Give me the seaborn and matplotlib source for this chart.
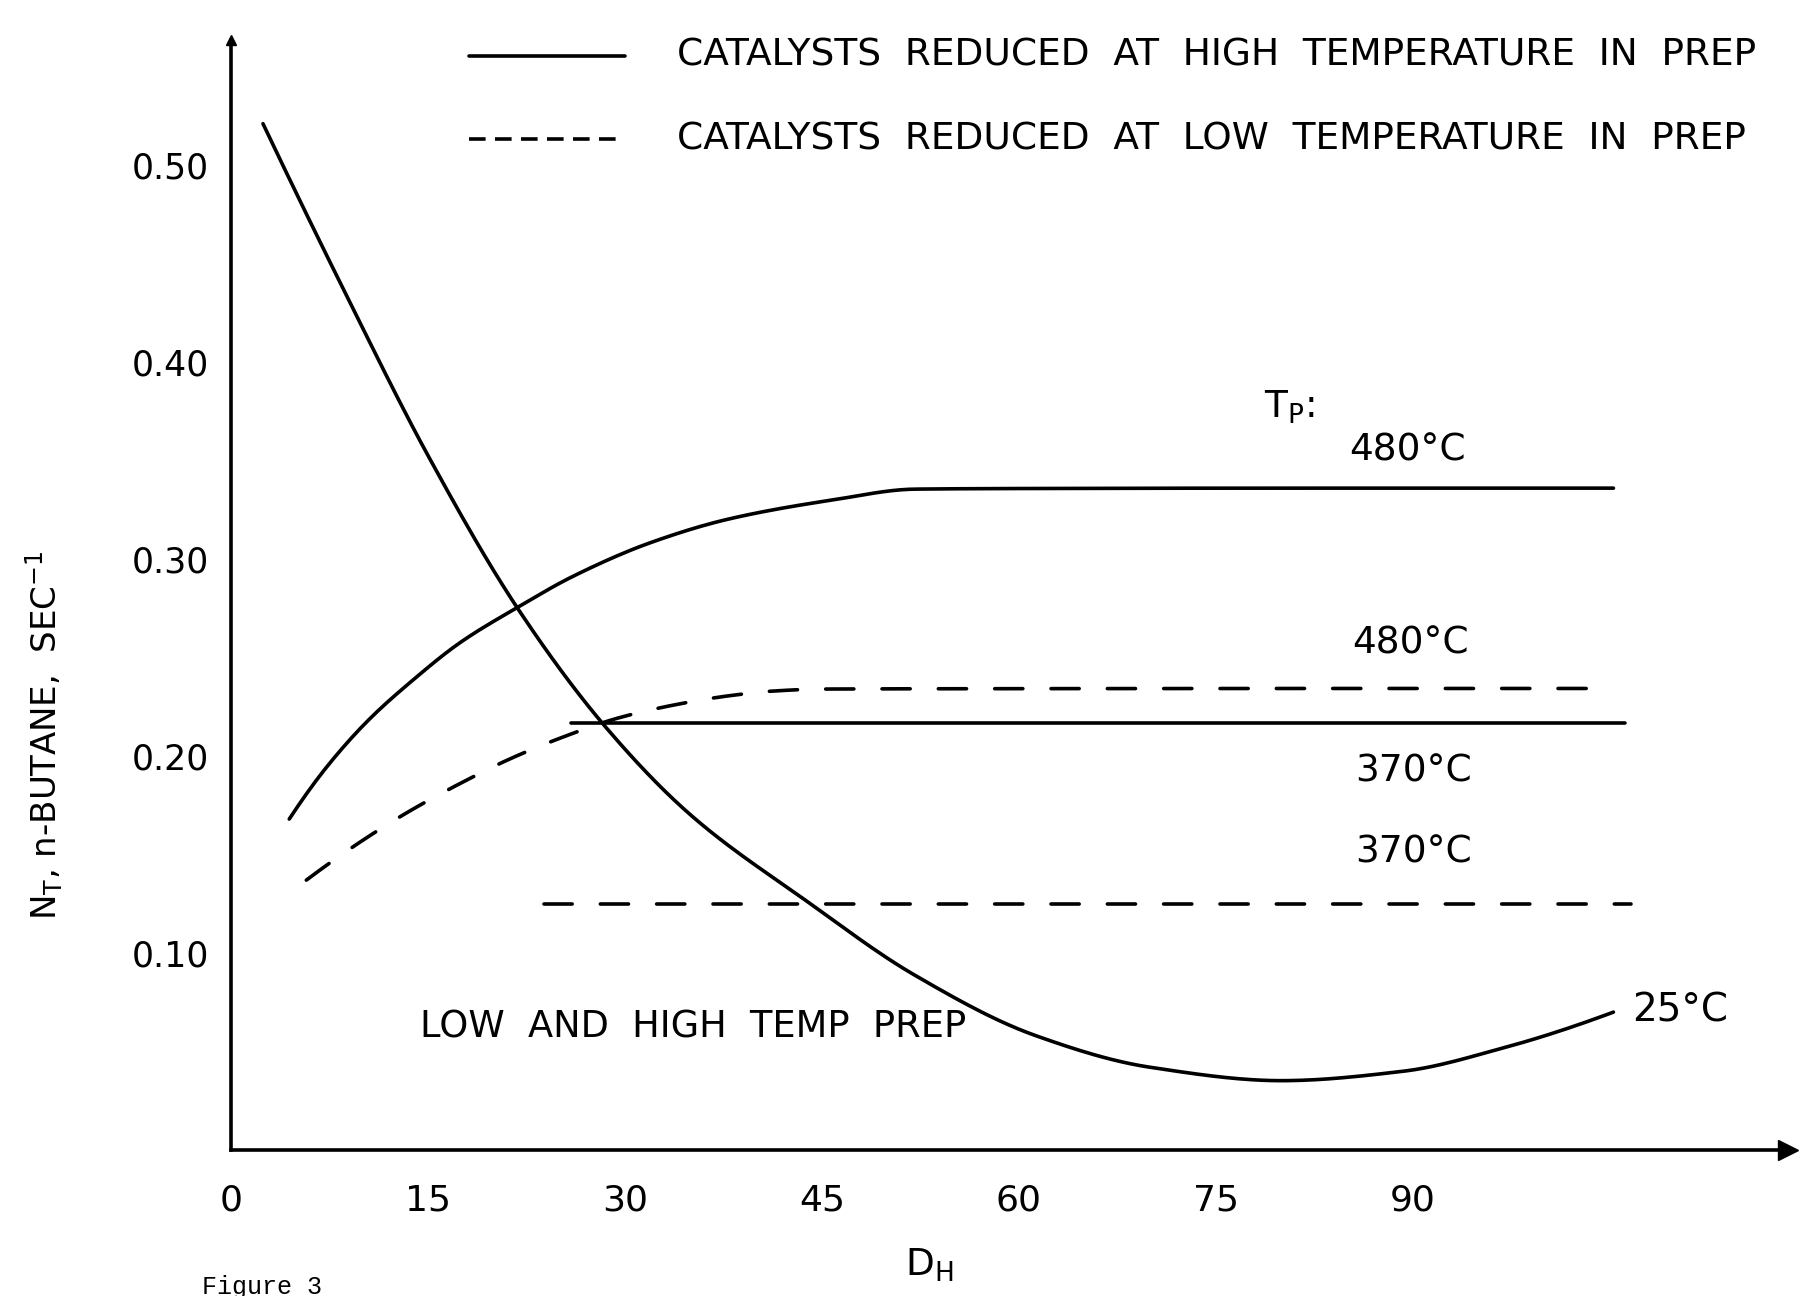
import matplotlib
matplotlib.use("Agg")
import matplotlib.pyplot as plt
import seaborn as sns
import pandas as pd
import numpy as np
from scipy.interpolate import PchipInterpolator

# ---------------- data ----------------
# 25 C curve (low and high temp prep), solid
dh_25 = [2.4, 8.6, 15.1, 21.8, 28.6, 35.0, 43.9, 52.0, 61.3, 70.0, 80.0, 89.3, 97.0, 105.3]
n_25 = [0.521, 0.436, 0.351, 0.275, 0.214, 0.170, 0.126, 0.089, 0.058, 0.042, 0.0352, 0.040, 0.052, 0.070]

# 480 C, high temp reduction, solid
dh_480h = [4.4, 7.2, 10.4, 13.9, 17.4, 21.8, 26.1, 32.0, 38.0, 45.8, 52.1, 60.0, 80.0, 105.3]
n_480h = [0.168, 0.194, 0.218, 0.239, 0.2575, 0.2755, 0.2915, 0.3085, 0.3205, 0.330, 0.3355, 0.3358, 0.336, 0.336]

# 480 C, low temp reduction, dashed
dh_480l = [5.7, 9.5, 13.3, 17.4, 21.2, 25.6, 29.3, 33.4, 37.8, 41.3, 45.0, 60.0, 80.0, 105.3]
n_480l = [0.137, 0.155, 0.171, 0.186, 0.1985, 0.2105, 0.219, 0.2255, 0.2305, 0.233, 0.234, 0.2342, 0.2343, 0.2343]

# 370 C, high temp reduction, solid
dh_370h = [25.9, 106.2]
n_370h = [0.2166, 0.2166]

# 370 C, low temp reduction, dashed
dh_370l = [23.8, 106.6]
n_370l = [0.125, 0.125]

x_ticks = [0, 15, 30, 45, 60, 75, 90]
x_ticklabels = ["0", "15", "30", "45", "60", "75", "90"]
y_ticks = [0.10, 0.20, 0.30, 0.40, 0.50]
y_ticklabels = ["0.10", "0.20", "0.30", "0.40", "0.50"]

legend_labels = ["CATALYSTS  REDUCED  AT  HIGH  TEMPERATURE  IN  PREP",
                 "CATALYSTS  REDUCED  AT  LOW  TEMPERATURE  IN  PREP"]

# ---------------- figure ----------------
sns.set_theme(style="white")
plt.rcParams["font.family"] = ["DejaVu Sans"]
plt.rcParams["text.color"] = "black"
plt.rcParams["xtick.color"] = "black"
plt.rcParams["ytick.color"] = "black"
plt.rcParams["axes.labelcolor"] = "black"

fig = plt.figure(figsize=(18.15, 12.96), dpi=100)
ax = fig.add_axes([231.5 / 1815, (1296 - 1150) / 1296, (1788 - 231.5) / 1815, (1150 - 40) / 1296])
ax.set_xlim(0, 118.6)
ax.set_ylim(0, 0.5635)
ax.set_facecolor("white")

LW = 2.6
DASH = (7.8, 7.8)


def smooth(x, y, n=300):
    f = PchipInterpolator(np.asarray(x, float), np.asarray(y, float))
    xs = np.linspace(x[0], x[-1], n)
    return xs, f(xs)


def draw(x, y, dashed):
    if len(x) > 2:
        x, y = smooth(x, y)
    df = pd.DataFrame({"x": x, "y": y})
    sns.lineplot(data=df, x="x", y="y", ax=ax, color="black", lw=LW,
                 sort=False, estimator=None)
    l = ax.lines[-1]
    l.set_solid_capstyle("round")
    l.set_dash_capstyle("round")
    if dashed:
        l.set_dashes(DASH)


draw(dh_25, n_25, False)
draw(dh_480h, n_480h, False)
draw(dh_480l, n_480l, True)
draw(dh_370h, n_370h, False)
draw(dh_370l, n_370l, True)

# spines
for s in ["top", "right"]:
    ax.spines[s].set_visible(False)
for s in ["left", "bottom"]:
    ax.spines[s].set_color("black")
    ax.spines[s].set_linewidth(2.6)

# arrow heads
ax.plot([1], [0], marker=">", color="black", markersize=14, transform=ax.transAxes, clip_on=False)
ax.plot([0], [1], marker="^", color="black", markersize=7, transform=ax.transAxes, clip_on=False)

ax.set_xticks(x_ticks)
ax.set_xticklabels(x_ticklabels)
ax.set_yticks(y_ticks)
ax.set_yticklabels(y_ticklabels)
ax.tick_params(axis="x", direction="in", length=12, width=2.2, pad=24, labelsize=26, colors="black")
ax.tick_params(axis="y", direction="in", length=8, width=2.2, pad=16, labelsize=25, colors="black")
ax.set_xlabel("")
ax.set_ylabel("")

# legend drawn at top
fig_tr = fig.transFigure


def fx(px):
    return px / 1815


def fy(py):
    return 1 - py / 1296


fig.add_artist(plt.Line2D([fx(469), fx(625)], [fy(56), fy(56)], color="black", lw=2.6, transform=fig_tr))
fig.add_artist(plt.Line2D([fx(469), fx(625)], [fy(139), fy(139)], color="black", lw=2.6,
                          linestyle=(0, (4.6, 2.6)), transform=fig_tr))
fig.text(fx(677), fy(56), legend_labels[0], fontsize=27, va="center", ha="left")
fig.text(fx(677), fy(139), legend_labels[1], fontsize=27, va="center", ha="left")

# annotations
ax.text(78.7, 0.377, "T$_\\mathregular{P}$:", fontsize=27, va="center", ha="left")
ax.text(85.2, 0.355, "480°C", fontsize=27, va="center", ha="left")
ax.text(85.4, 0.257, "480°C", fontsize=27, va="center", ha="left")
ax.text(85.6, 0.192, "370°C", fontsize=27, va="center", ha="left")
ax.text(85.6, 0.151, "370°C", fontsize=27, va="center", ha="left")
ax.text(106.7, 0.071, "25°C", fontsize=28, va="center", ha="left")
ax.text(14.4, 0.0625, "LOW  AND  HIGH  TEMP  PREP", fontsize=26.5, va="center", ha="left")

# axis labels
fig.text(fx(44), fy(735), "N$_\\mathregular{T}$, n-BUTANE,  SEC$^\\mathregular{-1}$", fontsize=24.5,
         rotation=90, va="center", ha="center")
fig.text(fx(905), fy(1265), "D$_\\mathregular{H}$", fontsize=27, va="center", ha="left")
fig.text(fx(202), fy(1294), "Figure 3", fontsize=18, family="Liberation Mono", va="baseline", ha="left")

fig.savefig("out.png", dpi=100, facecolor="white")
